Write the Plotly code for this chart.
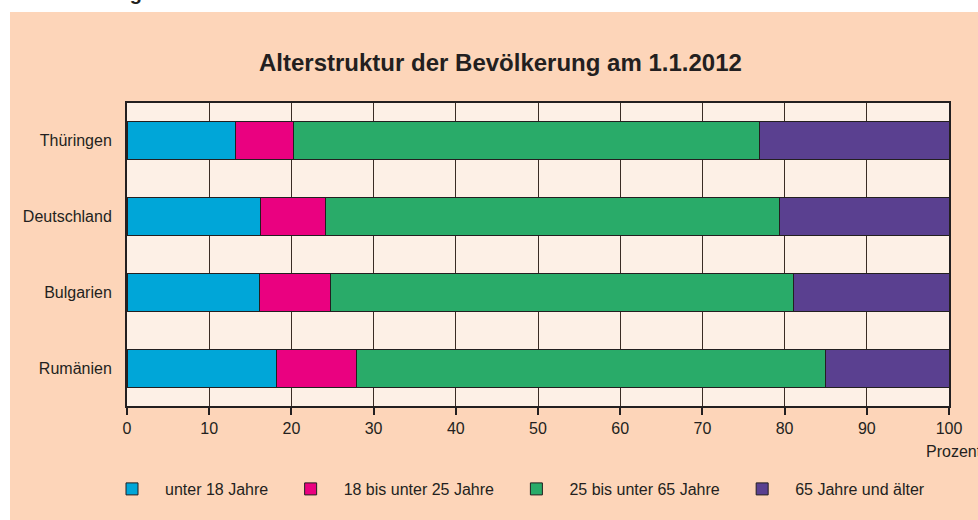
import plotly.graph_objects as go

# ---- data ----
regions = ["Thüringen", "Deutschland", "Bulgarien", "Rumänien"]
unter18 = [13.2, 16.2, 16.1, 18.2]
von18bis25 = [7.1, 8.0, 8.6, 9.7]
von25bis65 = [56.6, 55.2, 56.4, 57.1]
ab65 = [23.1, 20.6, 18.9, 15.0]
series_names = ["unter 18 Jahre", "18 bis unter 25 Jahre", "25 bis unter 65 Jahre", "65 Jahre und älter"]
series_colors = ["#00a6d8", "#ea0180", "#29ab69", "#5a4090"]
x_ticks = [0, 10, 20, 30, 40, 50, 60, 70, 80, 90, 100]
title_text = "Alterstruktur der Bevölkerung am 1.1.2012"
x_unit = "Prozent"

TEXT = "#231f20"
FONT = "Liberation Sans, Arial, sans-serif"
FS = 16

# plot area geometry (pixels)
L, R, T, B = 127, 29, 103, 114
W, H = 978, 520
PW, PH = W - L - R, H - T - B

def px(xpix):
    return (xpix - L) / PW

def py(ypix):
    return 1 - (ypix - T) / PH

fig = go.Figure()
pad = "\u00a0"
for name, vals, col in zip(series_names, [unter18, von18bis25, von25bis65, ab65], series_colors):
    fig.add_trace(go.Bar(
        y=regions, x=vals, name=name + pad, orientation="h",
        marker=dict(color=col, line=dict(color=TEXT, width=1)),
    ))

fig.update_layout(
    barmode="stack", bargap=0.5,
    width=W, height=H,
    margin=dict(l=L, r=R, t=T, b=B),
    paper_bgcolor="#fdd5b9",
    plot_bgcolor="#fdf0e6",
    font=dict(family=FONT, size=FS, color=TEXT),
    showlegend=True,
    legend=dict(orientation="h", x=px(99), xanchor="left", y=py(489), yanchor="middle",
                bgcolor="rgba(0,0,0,0)", font=dict(size=FS, color=TEXT),
                traceorder="normal", itemwidth=56),
    xaxis=dict(range=[0, 100], tickvals=x_ticks, ticks="outside", ticklen=7, tickwidth=1.5,
               tickcolor=TEXT, showgrid=True, gridcolor="#3a2c24", gridwidth=1,
               showline=True, linecolor=TEXT, linewidth=2, mirror=True, zeroline=False,
               tickfont=dict(size=FS, color=TEXT), fixedrange=True),
    yaxis=dict(autorange="reversed", showgrid=False, ticks="", showline=True,
               linecolor=TEXT, linewidth=2, mirror=True, ticklabelstandoff=10,
               tickfont=dict(size=FS, color=TEXT), fixedrange=True),
    shapes=[
        dict(type="rect", xref="paper", yref="paper", x0=-0.5, x1=px(10), y0=-1, y1=2,
             fillcolor="white", line=dict(width=0), layer="below"),
        dict(type="rect", xref="paper", yref="paper", x0=-1, x1=2, y0=py(12), y1=2,
             fillcolor="white", line=dict(width=0), layer="below"),
    ],
    annotations=[
        dict(text="<b>" + title_text + "</b>", xref="paper", yref="paper", x=px(500), y=py(62),
             xanchor="center", yanchor="middle", showarrow=False,
             font=dict(size=24, color=TEXT, family=FONT)),
        dict(text=x_unit, xref="paper", yref="paper", x=px(924), y=py(451),
             xanchor="left", yanchor="middle", showarrow=False,
             font=dict(size=FS, color=TEXT, family=FONT)),
        dict(text="<b>Abbildung</b>", xref="paper", yref="paper", x=px(144), y=py(-7),
             xanchor="right", yanchor="middle", showarrow=False,
             font=dict(size=20, color=TEXT, family=FONT)),
    ],
)

fig.write_html("out.html", include_plotlyjs=True,
               config={"displayModeBar": False},
               post_script="document.body.style.margin='0px';")
